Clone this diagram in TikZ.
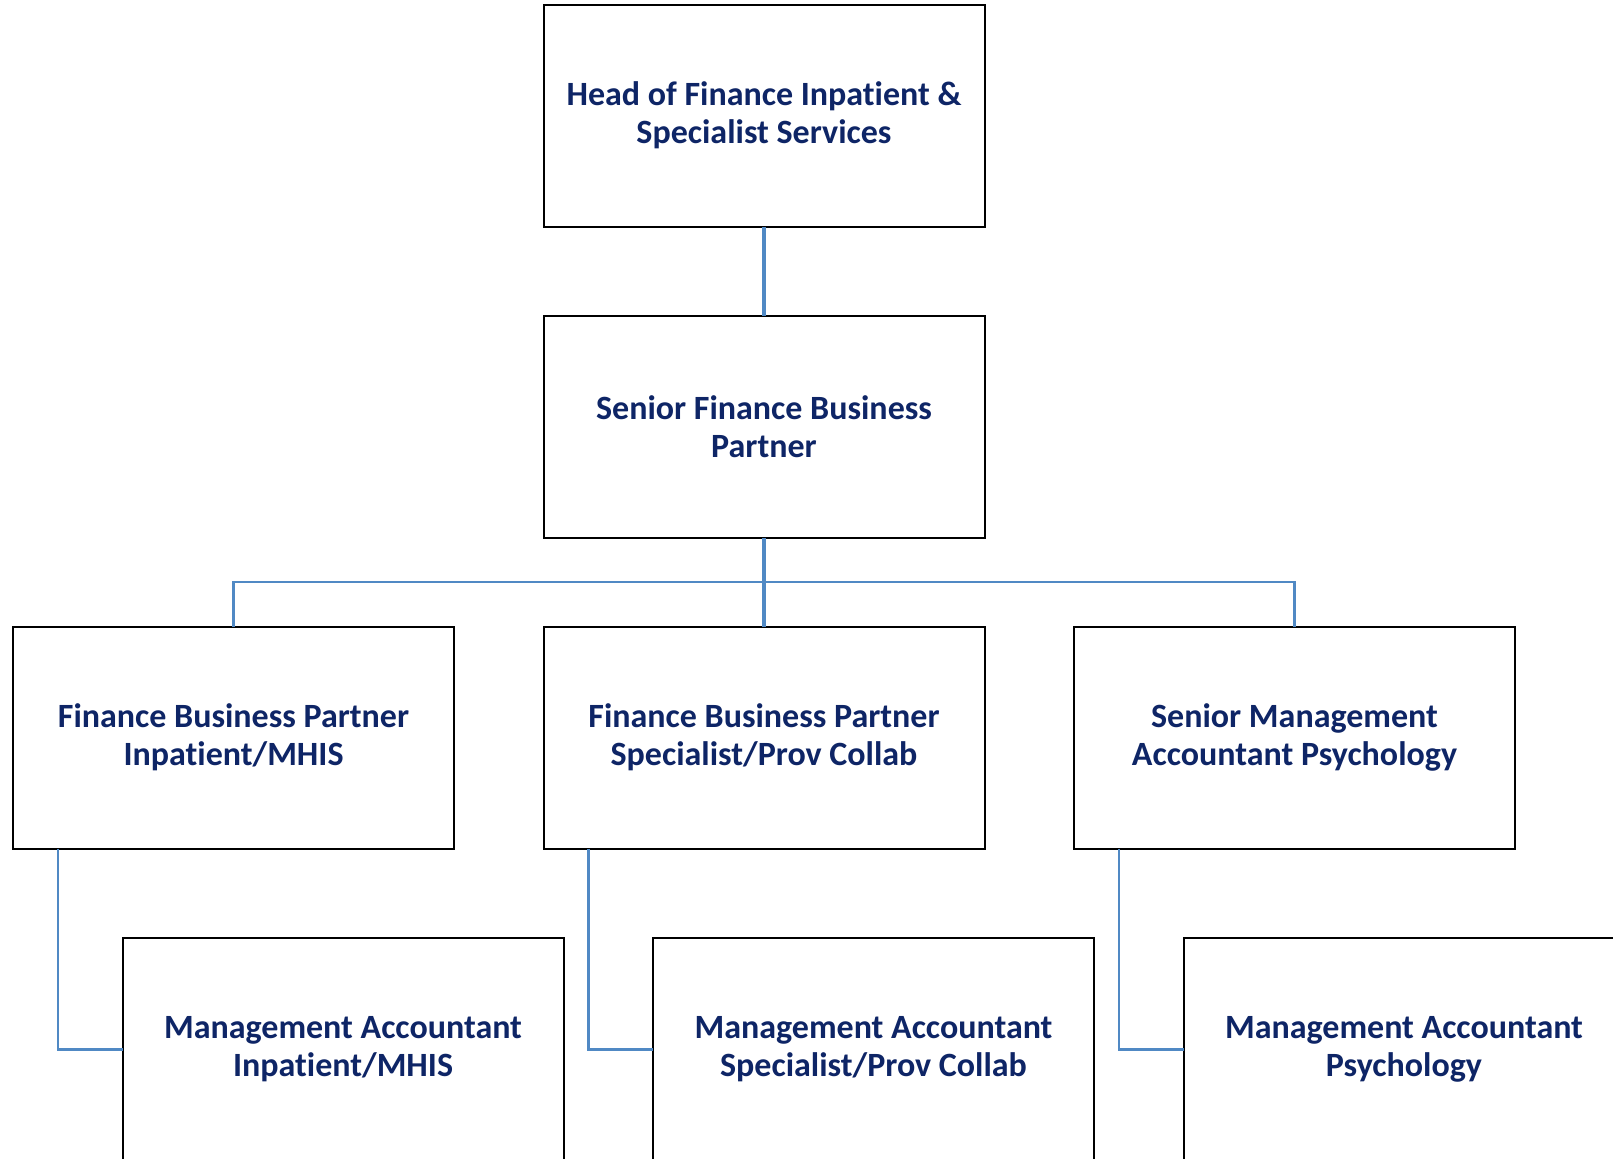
\documentclass[tikz,border=0pt]{standalone}
\usepackage{fontspec}
\setmainfont{Carlito}[RawFeature={-liga;-clig;-calt;-dlig}]
\usetikzlibrary{calc, positioning}

\definecolor{nv}{HTML}{0E2566}
\definecolor{ln}{HTML}{5089C4}

\begin{document}
\begin{tikzpicture}[x=0.5pt, y=-0.5pt,
	post/.style={shape=rectangle, draw=black, line width=1pt, fill=white, minimum width=220.5pt, minimum height=111pt, inner sep=0pt, outer sep=0pt, align=center, text=nv, font=\fontsize{17pt}{19pt}\selectfont\bfseries},
	conn/.style={draw=ln, line width=1.25pt},
	trunk/.style={draw=ln, line width=2pt}]
			\useasboundingbox (0,0) rectangle (1613,1158);
			\clip (0,0) rectangle (1613,1158);
			
			\node[post] (head) at (764, 115.5) {Head of Finance Inpatient \&\\Specialist Services};
			\node[post] (sfbp) at (764, 426.5) {Senior Finance Business\\Partner};
			
			\node[post] (fbp1) at (233.5, 737.7) {Finance Business Partner\\Inpatient/MHIS};
			\node[post] (fbp2) at (764, 737.7) {Finance Business Partner\\Specialist/Prov Collab};
			\node[post] (fbp3) at (1294.5, 737.7) {Senior Management\\Accountant Psychology};
			
			\node[post] (ma1) at (343, 1049.3) {Management Accountant\\Inpatient/MHIS};
			\node[post] (ma2) at (873.5, 1049.3) {Management Accountant\\Specialist/Prov Collab};
			\node[post] (ma3) at (1404, 1049.3) {Management Accountant\\Psychology};
			
			\coordinate (bus) at (764, 582);
			
			\draw[trunk] (head.south) -- (sfbp.north);
			\foreach \i in {1, 3}{
				\draw[conn] (bus) -| (fbp\i.north);
			};
			\draw[trunk] (sfbp.south) -- (fbp2.north);
			
			\foreach \i in {1, 2, 3}{
				\draw[conn] ($(fbp\i.south west) + (45, 0)$) |- (ma\i.west);
			};
			
		\end{tikzpicture}
\end{document}
